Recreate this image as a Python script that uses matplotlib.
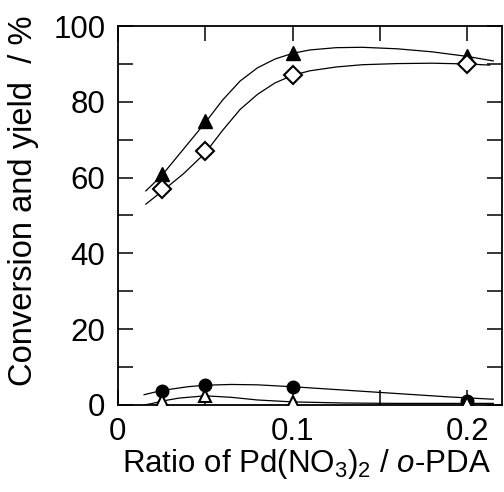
import matplotlib
matplotlib.use("Agg")
import matplotlib.pyplot as plt
from matplotlib.ticker import MultipleLocator, FixedLocator, FixedFormatter

plt.rcParams['font.family'] = ['Liberation Sans', 'DejaVu Sans']
plt.rcParams['mathtext.fontset'] = 'custom'
plt.rcParams['mathtext.rm'] = 'Liberation Sans'
plt.rcParams['mathtext.it'] = 'Liberation Sans:italic'

# measured points
ratio = [0.025, 0.05, 0.1, 0.2]
conversion = [61, 75, 93, 92]          # filled triangles
yield_main = [57, 67, 87, 90]          # open diamonds
yield_circle = [3.8, 5.2, 4.7, 1.0]    # filled circles
yield_tri = [1.0, 2.4, 0.8, 0.5]       # open triangles

# hand-drawn guide curves
conv_curve_x = [0.016, 0.025, 0.0375, 0.05, 0.06, 0.07, 0.08, 0.09, 0.1, 0.11,
                0.125, 0.14, 0.16, 0.18, 0.2, 0.215]
conv_curve_y = [56.5, 60.5, 67.5, 74.5, 80.5, 85.5, 89.0, 91.3, 92.8, 93.7,
                94.3, 94.4, 94.0, 93.2, 92.0, 90.8]
main_curve_x = [0.016, 0.025, 0.0375, 0.05, 0.06, 0.07, 0.08, 0.09, 0.1, 0.11,
                0.125, 0.14, 0.16, 0.18, 0.2, 0.213]
main_curve_y = [53.0, 56.3, 61.0, 66.5, 72.5, 78.0, 82.0, 85.0, 87.0, 88.2,
                89.2, 89.8, 90.1, 90.2, 90.0, 89.7]
circ_curve_x = [0.015, 0.025, 0.04, 0.05, 0.065, 0.08, 0.1, 0.13, 0.16, 0.19, 0.215]
circ_curve_y = [2.7, 3.8, 4.8, 5.2, 5.4, 5.3, 4.8, 3.9, 3.0, 2.1, 1.5]
tri_curve_x = [0.015, 0.02, 0.025, 0.035, 0.05, 0.065, 0.08, 0.1, 0.13, 0.16, 0.19, 0.215]
tri_curve_y = [0.0, 0.4, 1.0, 1.8, 2.4, 2.0, 1.3, 0.8, 0.5, 0.4, 0.4, 0.4]

fig = plt.figure(figsize=(5.04, 4.92), dpi=100)
ax = fig.add_axes([0.234, 0.177, 0.762, 0.770])

lw = 0.9
for cx, cy in [(conv_curve_x, conv_curve_y), (main_curve_x, main_curve_y),
               (circ_curve_x, circ_curve_y), (tri_curve_x, tri_curve_y)]:
    ax.plot(cx, cy, color='black', lw=lw, zorder=2)

ax.plot(ratio, conversion, ls='none', marker='^', ms=10.5, mfc='black', mec='black', zorder=3)
ax.plot(ratio, yield_main, ls='none', marker='D', ms=9, mfc='white', mec='black', mew=1.5, zorder=3)
ax.plot(ratio, yield_circle, ls='none', marker='o', ms=9, mfc='black', mec='black', zorder=3)
ax.plot(ratio, yield_tri, ls='none', marker='^', ms=9, mfc='white', mec='black', mew=1.5, zorder=4)

ax.set_xlim(0, 0.22)
ax.set_ylim(0, 100)

ax.xaxis.set_major_locator(FixedLocator([0, 0.1, 0.2]))
ax.xaxis.set_major_formatter(FixedFormatter(['0', '0.1', '0.2']))
ax.xaxis.set_minor_locator(MultipleLocator(0.05))
ax.yaxis.set_major_locator(MultipleLocator(20))
ax.yaxis.set_minor_locator(MultipleLocator(10))

ax.tick_params(which='both', direction='in', top=True, right=True, width=1.1)
ax.tick_params(which='major', length=11, labelsize=22.5)
ax.tick_params(which='minor', length=11)
ax.tick_params(axis='x', which='major', pad=9)
ax.tick_params(axis='y', which='major', pad=9)
for s in ax.spines.values():
    s.set_linewidth(1.3)

ax.set_xlabel(r'Ratio of Pd(NO$_3$)$_2$ / $o$-PDA', fontsize=22.5)
ax.set_ylabel('Conversion and yield  / %', fontsize=23.5)
ax.xaxis.set_label_coords(0.49, -0.11)
ax.yaxis.set_label_coords(-0.205, 0.54)

fig.savefig('out.png', dpi=100)
